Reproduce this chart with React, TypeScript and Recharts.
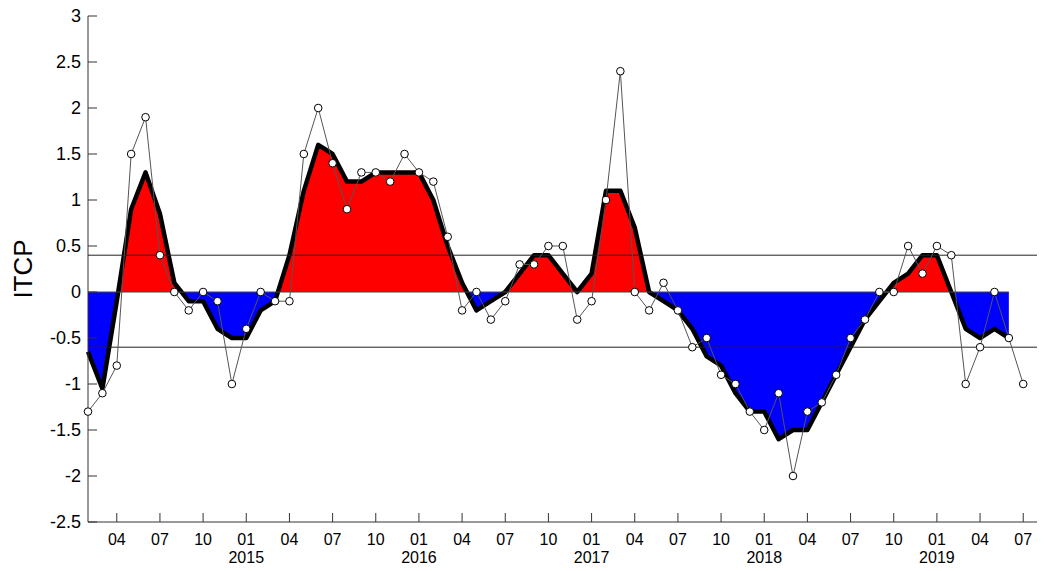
import React from 'react';
import { ComposedChart, Area, Line, XAxis, YAxis, ReferenceLine } from 'recharts';

// monthly values, Feb 2014 .. Jul 2019
const months = [
  '2014-02', '2014-03', '2014-04', '2014-05', '2014-06', '2014-07', '2014-08', '2014-09', '2014-10', '2014-11', '2014-12',
  '2015-01', '2015-02', '2015-03', '2015-04', '2015-05', '2015-06', '2015-07', '2015-08', '2015-09', '2015-10', '2015-11', '2015-12',
  '2016-01', '2016-02', '2016-03', '2016-04', '2016-05', '2016-06', '2016-07', '2016-08', '2016-09', '2016-10', '2016-11', '2016-12',
  '2017-01', '2017-02', '2017-03', '2017-04', '2017-05', '2017-06', '2017-07', '2017-08', '2017-09', '2017-10', '2017-11', '2017-12',
  '2018-01', '2018-02', '2018-03', '2018-04', '2018-05', '2018-06', '2018-07', '2018-08', '2018-09', '2018-10', '2018-11', '2018-12',
  '2019-01', '2019-02', '2019-03', '2019-04', '2019-05', '2019-06', '2019-07',
];

const itcp = [
  -1.3, -1.1, -0.8, 1.5, 1.9, 0.4, 0, -0.2, 0, -0.1, -1.0,
  -0.4, 0, -0.1, -0.1, 1.5, 2.0, 1.4, 0.9, 1.3, 1.3, 1.2, 1.5,
  1.3, 1.2, 0.6, -0.2, 0, -0.3, -0.1, 0.3, 0.3, 0.5, 0.5, -0.3,
  -0.1, 1.0, 2.4, 0, -0.2, 0.1, -0.2, -0.6, -0.5, -0.9, -1.0, -1.3,
  -1.5, -1.1, -2.0, -1.3, -1.2, -0.9, -0.5, -0.3, 0, 0, 0.5, 0.2,
  0.5, 0.4, -1.0, -0.6, 0, -0.5, -1.0,
];

// smoothed curve (thick line), Feb 2014 .. Jun 2019
const smoothed = [
  -0.65, -1.05, -0.1, 0.9, 1.3, 0.85, 0.1, -0.1, -0.1, -0.4, -0.5,
  -0.5, -0.2, -0.1, 0.4, 1.1, 1.6, 1.5, 1.2, 1.2, 1.3, 1.3, 1.3,
  1.3, 1.0, 0.5, 0.1, -0.2, -0.1, 0, 0.2, 0.4, 0.4, 0.2, 0,
  0.2, 1.1, 1.1, 0.7, 0, -0.1, -0.2, -0.4, -0.7, -0.8, -1.1, -1.3,
  -1.3, -1.6, -1.5, -1.5, -1.2, -0.9, -0.6, -0.3, -0.1, 0.1, 0.2, 0.4,
  0.4, 0, -0.4, -0.5, -0.4, -0.5,
];

const thresholds = [0.4, -0.6];
const xTicks = [2, 5, 8, 11, 14, 17, 20, 23, 26, 29, 32, 35, 38, 41, 44, 47, 50, 53, 56, 59, 62, 65];
const yTicks = [-2.5, -2, -1.5, -1, -0.5, 0, 0.5, 1, 1.5, 2, 2.5, 3];

const data = months.map((m, i) => ({
  i,
  month: m,
  raw: itcp[i],
  smooth: i < smoothed.length ? smoothed[i] : null,
}));

const FONT = 'Liberation Sans, Arial, sans-serif';
const AX = '#333';

const BottomTick = (props: any) => {
  const { x, y, payload } = props;
  const m = months[payload.value] || '';
  const [yr, mo] = m.split('-');
  return (
    <g>
      <line x1={x} y1={y} x2={x} y2={y - 9} stroke={AX} />
      <text x={x} y={y + 23} textAnchor="middle" fontSize={16} fontFamily={FONT} fill="#000">{mo}</text>
      {mo === '01' && (
        <text x={x} y={y + 41} textAnchor="middle" fontSize={16} fontFamily={FONT} fill="#000">{yr}</text>
      )}
    </g>
  );
};

const TopTick = (props: any) => {
  const { x, y } = props;
  return <line x1={x} y1={y} x2={x} y2={y + 9} stroke={AX} />;
};

const LeftTick = (props: any) => {
  const { x, y, payload } = props;
  return (
    <g>
      <line x1={x} y1={y} x2={x + 9} y2={y} stroke={AX} />
      <text x={x - 7} y={y} dy={6} textAnchor="end" fontSize={18} fontFamily={FONT} fill="#000">{payload.value}</text>
    </g>
  );
};

const RightTick = (props: any) => {
  const { x, y } = props;
  return <line x1={x} y1={y} x2={x - 9} y2={y} stroke={AX} />;
};

const AxisTitle = () => (
  <text transform="translate(32,269) rotate(-90)" textAnchor="middle" fontSize={26} fontFamily={FONT} fill="#000">
    ITCP
  </text>
);

export default function App() {
  return (
    <div style={{ margin: -8, width: 1045, height: 571, overflow: 'hidden', background: '#fff' }}>
      <ComposedChart width={1060} height={571} data={data} margin={{ top: 16, right: 8, bottom: 0, left: 0 }}>
        <defs>
          <linearGradient id="itcpSplit" gradientUnits="userSpaceOnUse" x1="0" y1="16" x2="0" y2="522">
            <stop offset={3 / 5.5} stopColor="#ff0000" />
            <stop offset={3 / 5.5} stopColor="#0000ff" />
          </linearGradient>
        </defs>
        <XAxis
          dataKey="i"
          type="number"
          domain={[0, 67]}
          ticks={xTicks}
          height={49}
          tickSize={0}
          tickMargin={0}
          tick={<BottomTick />}
          axisLine={{ stroke: AX }}
        />
        <XAxis
          xAxisId="top"
          orientation="top"
          dataKey="i"
          type="number"
          domain={[0, 67]}
          ticks={xTicks}
          height={0}
          tickSize={0}
          tickMargin={0}
          tick={<TopTick />}
          axisLine={{ stroke: AX }}
        />
        <YAxis
          type="number"
          domain={[-2.5, 3]}
          ticks={yTicks}
          width={88}
          tickSize={0}
          tickMargin={0}
          tick={<LeftTick />}
          axisLine={{ stroke: AX }}
          label={<AxisTitle />}
        />
        <YAxis
          yAxisId="right"
          orientation="right"
          type="number"
          domain={[-2.5, 3]}
          ticks={yTicks}
          width={0}
          tickSize={0}
          tickMargin={0}
          tick={<RightTick />}
          axisLine={{ stroke: AX }}
        />
        <Area
          type="linear"
          dataKey="smooth"
          baseValue={0}
          stroke="#000"
          strokeWidth={4.5}
          strokeLinejoin="round"
          fill="url(#itcpSplit)"
          fillOpacity={1}
          dot={false}
          activeDot={false}
          isAnimationActive={false}
        />
        <ReferenceLine segment={[{ x: 0, y: 0 }, { x: smoothed.length - 1, y: 0 }]} stroke="#444" strokeWidth={1} />
        {thresholds.map((t) => (
          <ReferenceLine key={t} y={t} stroke="#222" strokeWidth={1} />
        ))}
        <Line
          type="linear"
          dataKey="raw"
          stroke="#555"
          strokeWidth={1}
          dot={{ r: 3.8, fill: '#fff', stroke: '#000', strokeWidth: 1 }}
          activeDot={false}
          isAnimationActive={false}
        />
      </ComposedChart>
    </div>
  );
}
